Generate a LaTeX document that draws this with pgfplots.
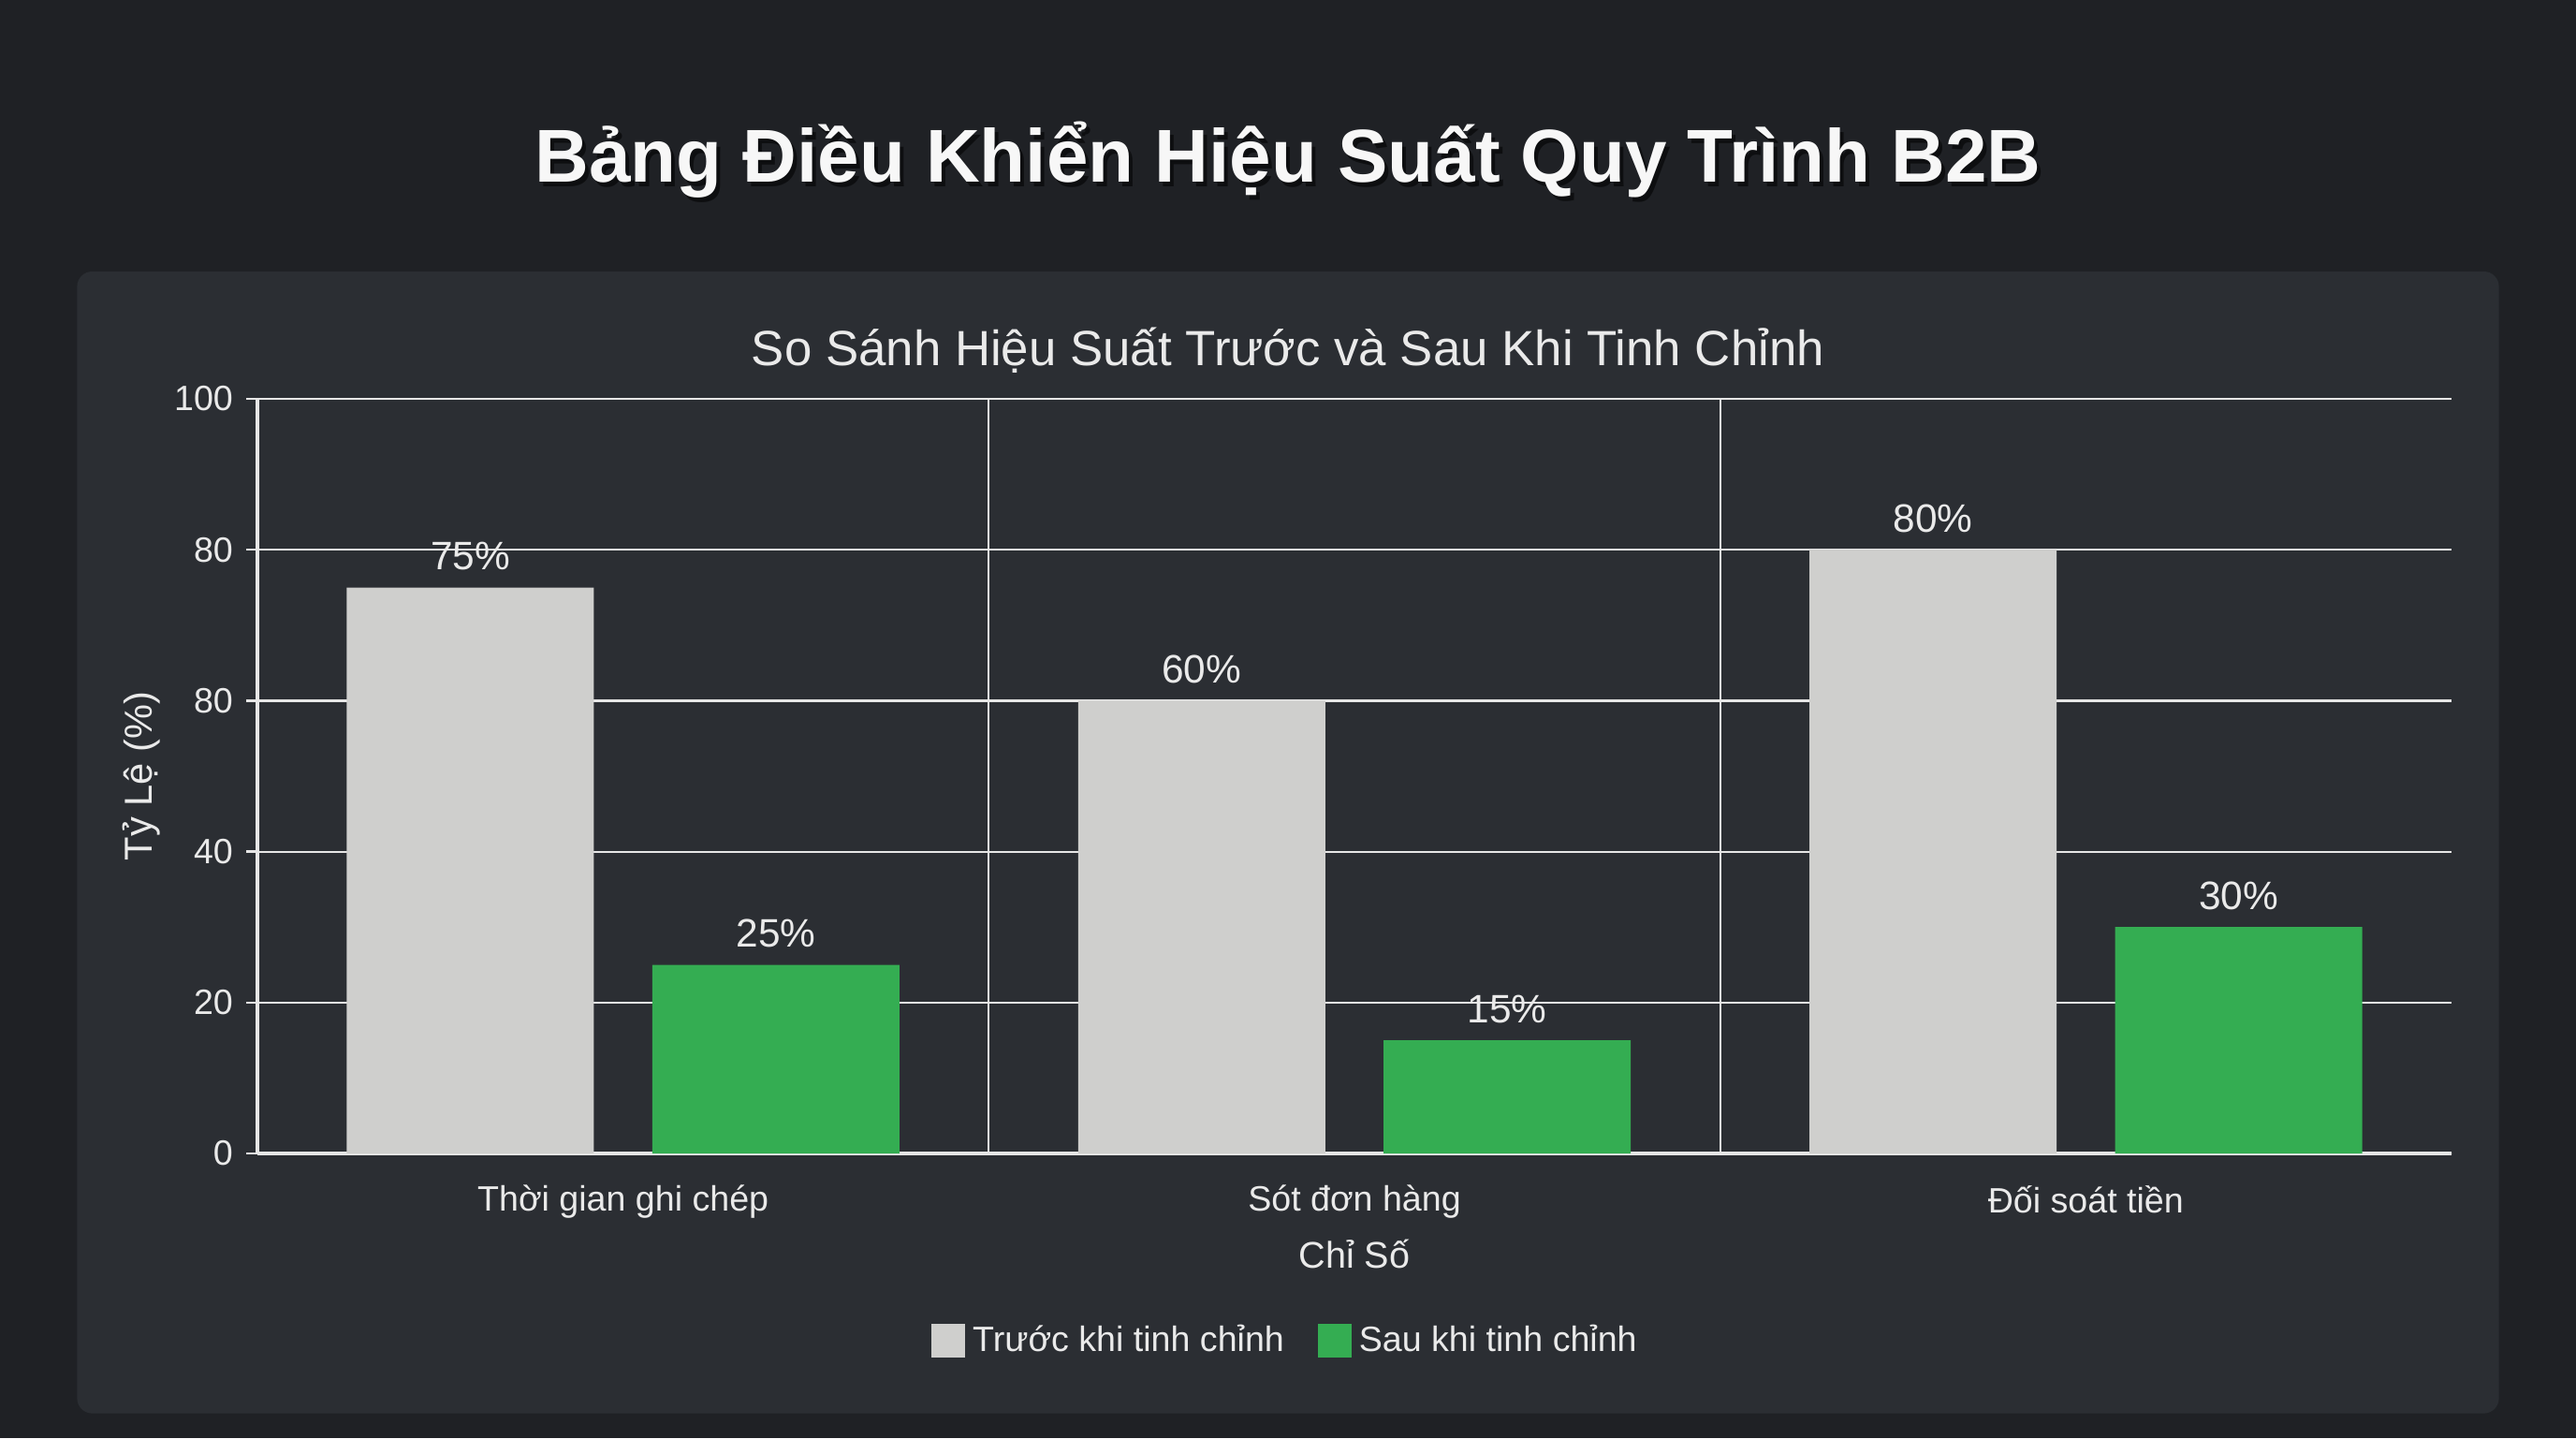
\documentclass[border=0pt]{standalone}
\usepackage{pgfplots}
\pgfplotsset{compat=1.18}
\usepackage{fontspec}
\setmainfont{Liberation Sans}
\definecolor{bgout}{HTML}{1F2125}
\definecolor{panel}{HTML}{2B2E33}
\definecolor{gridc}{HTML}{E6E6E6}
\definecolor{txt}{HTML}{EAEAEA}
\definecolor{barA}{HTML}{CFCFCD}
\definecolor{barB}{HTML}{34AD52}
\begin{document}
\begin{tikzpicture}
\fill[bgout] (0,0) rectangle (688pt,384pt);
\fill[panel, rounded corners=4pt] (20.6pt,6.6pt) rectangle (667.4pt,311.5pt);
\node[text=black, opacity=0.55, font=\fontsize{20}{24}\selectfont\bfseries] at (345pt,340.2pt) {Bảng Điều Khiển Hiệu Suất Quy Trình B2B};
\node[text=white!94!gray, font=\fontsize{20}{24}\selectfont\bfseries] at (344pt,341.4pt) {Bảng Điều Khiển Hiệu Suất Quy Trình B2B};
\node[text=txt, font=\fontsize{13.2}{16}\selectfont] at (344pt,290.5pt) {So Sánh Hiệu Suất Trước và Sau Khi Tinh Chỉnh};
\begin{axis}[
  at={(68.75pt,76pt)}, anchor=south west,
  scale only axis, width=586pt, height=201.5pt,
  ybar, bar width=66pt,
  xmin=-0.5, xmax=2.5, ymin=0, ymax=100,
  axis x line*=bottom, axis y line*=left,
  axis line style={draw=gridc, line width=0.8pt},
  xtick={0,1,2},
  xticklabels={Thời gian ghi chép, Sót đơn hàng, Đối soát tiền},
  xtick style={draw=none},
  ytick={0,20,40,60,80,100},
  yticklabels={0,20,40,80,80,100},
  ytick style={draw=gridc, line width=0.6pt},
  tick align=outside, major tick length=3pt,
  ymajorgrids,
  major grid style={draw=gridc, line width=0.55pt},
  tick label style={text=txt},
  yticklabel style={font=\fontsize{9.4}{11}\selectfont},
  xticklabel style={font=\fontsize{9.4}{11}\selectfont, yshift=-2pt},
  xlabel={Chỉ Số},
  xlabel style={at={(rel axis cs:0.5,-0.1335)}, anchor=center, text=txt, font=\fontsize{9.9}{12}\selectfont},
  ylabel={Tỷ Lệ (\%)},
  ylabel style={at={(rel axis cs:-0.053,0.5)}, anchor=center, text=txt, font=\fontsize{10.4}{12}\selectfont},
  legend style={at={(rel axis cs:0.4697,-0.2486)}, anchor=center, draw=none, fill=none,
    text=txt, font=\fontsize{9.4}{12}\selectfont, legend columns=2,
    /tikz/every even column/.append style={column sep=7pt},
    /tikz/every odd column/.append style={column sep=0pt}},
  legend image code/.code={\fill[#1] (0pt,-4.5pt) rectangle (9pt,4.5pt);},
  nodes near coords={\pgfmathprintnumber[assume math mode=true]{\pgfplotspointmeta}\%},
  every node near coord/.append style={text=txt, font=\fontsize{10.6}{12}\selectfont, anchor=south, yshift=1pt},
]
\draw[gridc, line width=0.55pt] (axis cs:0.5,0) -- (axis cs:0.5,100);
\draw[gridc, line width=0.55pt] (axis cs:1.5,0) -- (axis cs:1.5,100);
\draw[gridc, line width=0.6pt] (axis cs:-0.5,0) -- ++(0,-4pt);
\draw[gridc, line width=0.6pt] (axis cs:0.5,0) -- ++(0,-4pt);
\draw[gridc, line width=0.6pt] (axis cs:1.5,0) -- ++(0,-4pt);
\draw[gridc, line width=0.6pt] (axis cs:2.5,0) -- ++(0,-4pt);
\addplot[bar shift=-40.8pt, fill=barA, draw=none]
  coordinates {(0,75) (1,60) (2,80)};
\addlegendentry{Trước khi tinh chỉnh}
\addplot[bar shift=40.8pt, fill=barB, draw=none]
  coordinates {(0,25) (1,15) (2,30)};
\addlegendentry{Sau khi tinh chỉnh}
\end{axis}
\end{tikzpicture}
\end{document}
